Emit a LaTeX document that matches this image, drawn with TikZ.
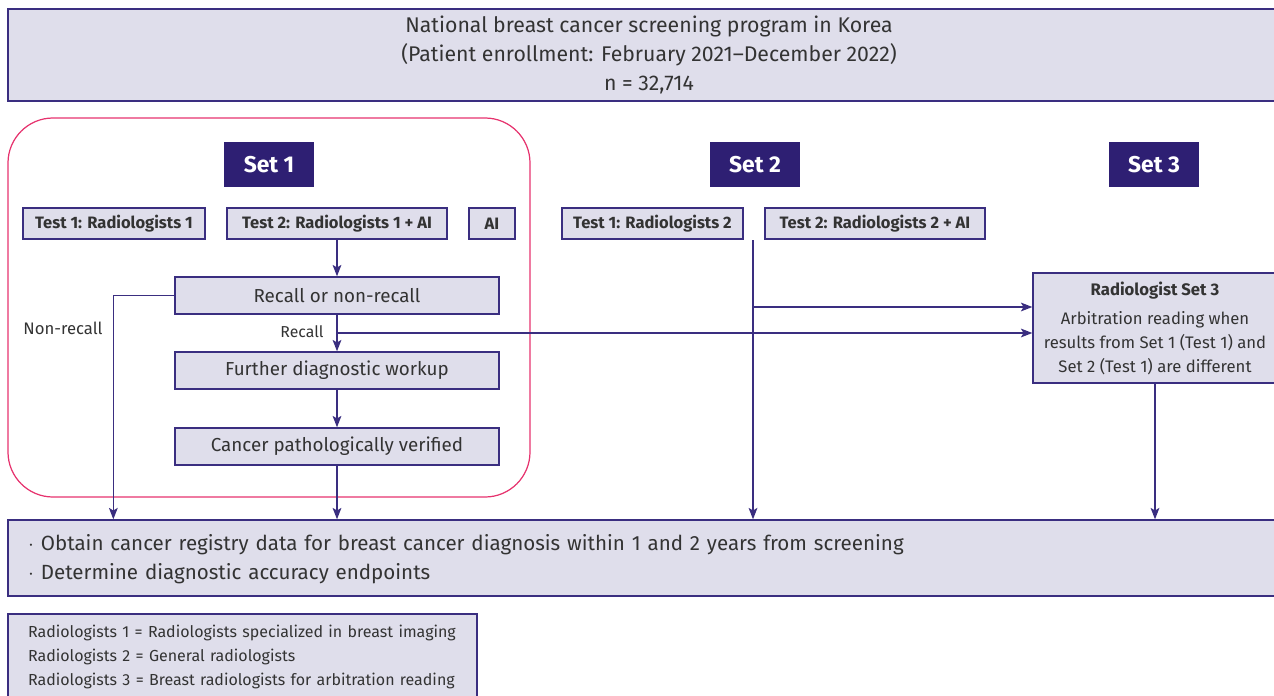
\documentclass[tikz,border=0pt]{standalone}
\usepackage{fontspec}
\setmainfont{Fira Sans}
\usetikzlibrary{arrows.meta}
\definecolor{boxfill}{HTML}{DFDEEB}
\definecolor{boxline}{HTML}{3A2E80}
\definecolor{setnavy}{HTML}{2E1F73}
\definecolor{setpink}{HTML}{E6336E}
\definecolor{txtgray}{HTML}{333333}
\tikzset{
  stepbox/.style={draw=boxline, fill=boxfill, line width=0.8pt, text=txtgray,
    inner sep=0pt, align=center},
  testbox/.style={stepbox, minimum height=0.62cm, font=\fontsize{9.4}{11}\selectfont\bfseries},
  flowbox/.style={stepbox, minimum width=6.48cm, minimum height=0.74cm, font=\fontsize{10.7}{12}\selectfont},
  setlabel/.style={fill=setnavy, text=white, minimum width=1.8cm, minimum height=0.9cm,
    inner sep=0pt, font=\fontsize{13}{15}\selectfont\bfseries},
  arr/.style={draw=boxline, line width=0.8pt, -{Stealth[length=6.5pt,width=5pt,inset=1.5pt]}},
  plain/.style={text=txtgray, inner sep=0pt}
}
\begin{document}
\begin{tikzpicture}[x=0.02cm, y=-0.02cm]
\useasboundingbox (0,0) rectangle (1274,696);

  % top box
  \node[stepbox, minimum width=25.64cm, minimum height=1.84cm,
        font=\fontsize{12.1}{16.5}\selectfont] (top) at (649,55)
        {National breast cancer screening program in Korea\\
         (Patient enrollment: February 2021--December 2022)\\
         n = 32,714};

  % set 1 frame
  \draw[setpink, line width=0.7pt, rounded corners=0.9cm] (8,118) rectangle (530,497);

  \node[setlabel] (set1) at (269,164.5) {Set 1};
  \node[setlabel] (set2) at (755,164.5) {Set 2};
  \node[setlabel] (set3) at (1154,164.5) {Set 3};

  \node[testbox, minimum width=3.64cm] (t1a) at (114,223.5) {Test 1: Radiologists 1};
  \node[testbox, minimum width=4.4cm] (t2a) at (337,223.5) {Test 2: Radiologists 1 + AI};
  \node[testbox, minimum width=0.92cm] (ai) at (492,223.5) {AI};
  \node[testbox, minimum width=3.62cm] (t1b) at (652.5,223.5) {Test 1: Radiologists 2};
  \node[testbox, minimum width=4.4cm] (t2b) at (875,223.5) {Test 2: Radiologists 2 + AI};

  \node[flowbox] (recall) at (337,295.5) {Recall or non-recall};
  \node[flowbox] (further) at (337,370.5) {Further diagnostic workup};
  \node[flowbox] (cancer) at (337,446.5) {Cancer pathologically verified};

  \node[stepbox, minimum width=4.88cm, minimum height=2.2cm,
        font=\fontsize{9.5}{13.6}\selectfont] (arb) at (1155,328)
        {\textbf{Radiologist Set 3}\\[3pt]
         Arbitration reading when\\
         results from Set 1 (Test 1) and\\
         Set 2 (Test 1) are different};

  \node[stepbox, minimum width=25.44cm, minimum height=1.52cm, text width=24.64cm,
        align=left, inner xsep=0.4cm, font=\fontsize{11.7}{17}\selectfont] (goal) at (644,558)
        {\rule{0pt}{10.5pt}$\cdot$ Obtain cancer registry data for breast cancer diagnosis within 1 and 2 years from screening\\
         $\cdot$ Determine diagnostic accuracy endpoints};

  \node[stepbox, minimum width=9.38cm, minimum height=1.72cm, text width=8.58cm,
        align=left, inner xsep=0.4cm, font=\fontsize{9.1}{13.6}\selectfont] (legend) at (242.5,657)
        {Radiologists 1 = Radiologists specialized in breast imaging\\
         Radiologists 2 = General radiologists\\
         Radiologists 3 = Breast radiologists for arbitration reading};

  \node[plain, font=\fontsize{9.5}{11}\selectfont] (nonrec) at (63,328) {Non-recall};
  \node[plain, font=\fontsize{9}{11}\selectfont] (rlab) at (302,332) {Recall};

  \coordinate (rc) at (337,333);
  \coordinate (s2top) at (753,240);
  \coordinate (s2mid) at (753,307);

  \draw[arr] (t2a) -- (recall);
  \draw[arr] (recall.west) -- ++(-61,0) coordinate (nr) -- (nr |- goal.north);
  \draw[arr] (recall) -- (further);
  \draw[arr] (rc) -- (rc -| arb.west);
  \draw[arr] (further) -- (cancer);
  \draw[arr] (cancer) -- (cancer |- goal.north);
  \draw[arr] (s2top) -- (s2top |- goal.north);
  \draw[arr] (s2mid) -- (s2mid -| arb.west);
  \draw[arr] (arb) -- (arb |- goal.north);

\end{tikzpicture}
\end{document}
